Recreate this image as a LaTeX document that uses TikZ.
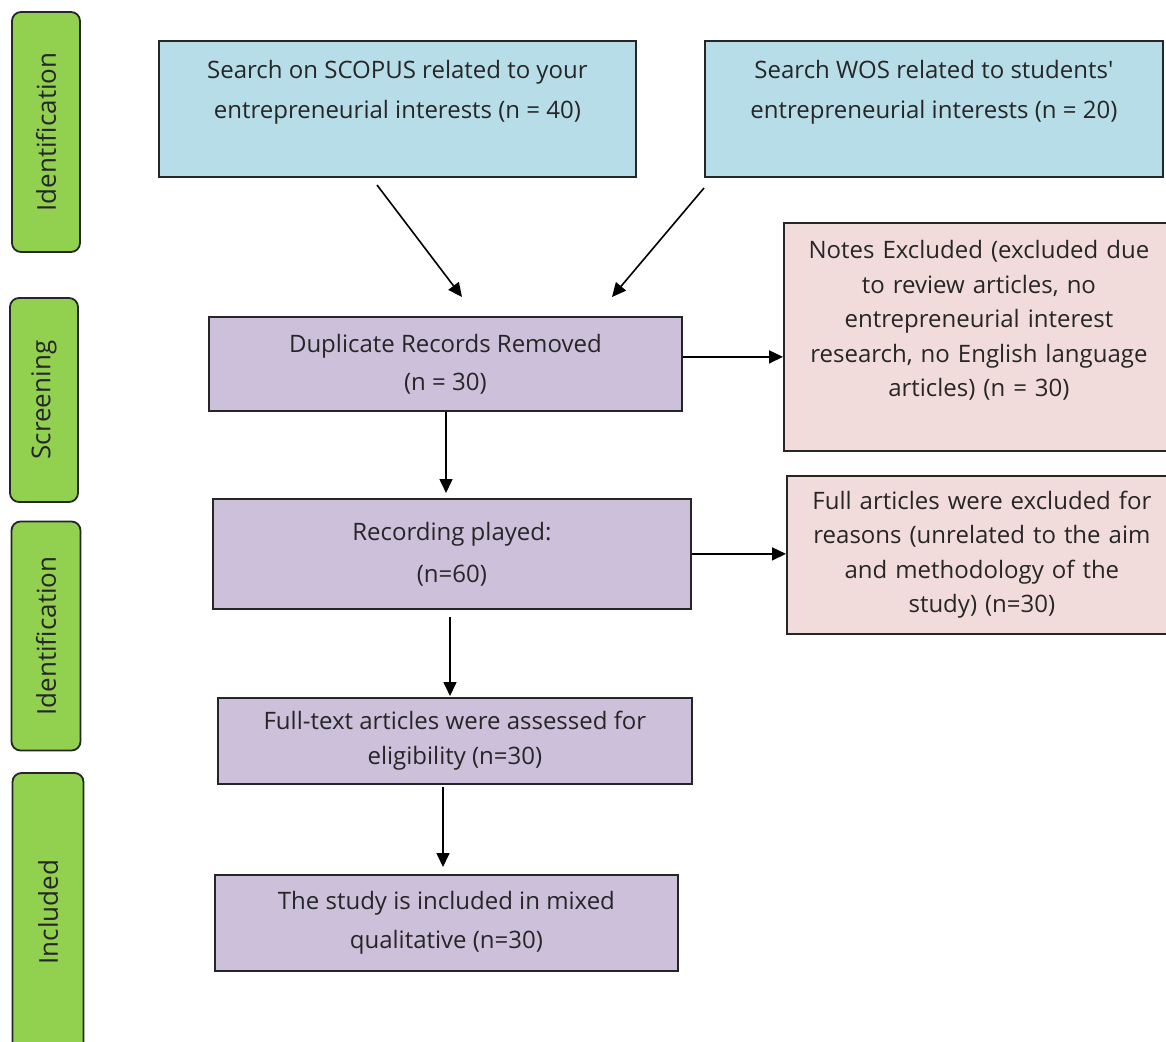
\documentclass[tikz,border=0pt]{standalone}
\usepackage{fontspec}
\setmainfont{Open Sans}
\usetikzlibrary{arrows.meta,calc}
\definecolor{bluefill}{HTML}{B7DDE8}
\definecolor{purplefill}{HTML}{CCC0DA}
\definecolor{pinkfill}{HTML}{F2DCDB}
\definecolor{greenfill}{HTML}{92D050}
\begin{document}
\begin{tikzpicture}[x=1pt,y=-1pt,
  box/.style={draw=black!85, line width=1.8pt, rectangle, anchor=north west, align=center, inner sep=4pt,
     font=\fontsize{24}{38}\selectfont, text=black!85},
  bluebox/.style={box, fill=bluefill, font=\fontsize{24}{40}\selectfont},
  purplebox/.style={box, fill=purplefill},
  pinkbox/.style={box, fill=pinkfill, font=\fontsize{24}{34.5}\selectfont},
  phase/.style={draw=black!85, line width=1.8pt, rounded corners=9pt, fill=greenfill, rotate=90,
     font=\fontsize{26}{30}\selectfont, text=black!85, inner sep=0pt},
  arr/.style={line width=1.6pt, -{Triangle[length=14pt,width=13pt]}}]
\useasboundingbox (0,0) rectangle (1166,1041);
\fill[white] (0,0) rectangle (1166,1041);
% phase labels
\node[phase, minimum width=240pt, minimum height=68pt] (ph1) at (46,132) {Identification};
\node[phase, minimum width=204pt, minimum height=68pt] (ph2) at (44,400) {Screening};
\node[phase, minimum width=229pt, minimum height=69pt] (ph3) at (46,636) {Identification};
\begin{scope}
\clip (0,0) rectangle (1166,1041);
\node[phase, minimum width=300pt, minimum height=71pt] (ph4) at (48,923) {};
\node[rotate=90, font=\fontsize{26}{30}\selectfont, text=black!85] (ph4t) at (48,912) {Included};
\end{scope}
% boxes
\node[bluebox, minimum width=477pt, minimum height=136pt] (scopus) at (158,40)
  {Search on SCOPUS related to your\\entrepreneurial interests (n = 40)\\[-12pt] \strut};
\node[bluebox, minimum width=458pt, minimum height=136pt] (wos) at (704,40)
  {Search WOS related to students\textquotesingle\\entrepreneurial interests (n = 20)\\[-12pt] \strut};
\node[purplebox, minimum width=473pt, minimum height=94pt] (dup) at (208,316)
  {Duplicate Records Removed\\(n = 30)};
\node[pinkbox, minimum width=390pt, minimum height=228pt, text width=370pt] (notes) at (783,222)
  {Notes Excluded (excluded due\\to review articles, no\\entrepreneurial interest\\research, no English language\\articles) (n = 30)\\[-8pt] \strut};
\node[purplebox, minimum width=478pt, minimum height=110pt, font=\fontsize{24}{42}\selectfont] (rec) at (212,498)
  {Recording played:\\(n=60)};
\node[pinkbox, minimum width=390pt, minimum height=158pt, text width=370pt] (full) at (786,475)
  {Full articles were excluded for\\reasons (unrelated to the aim\\and methodology of the\\study) (n=30)};
\node[purplebox, minimum width=474pt, minimum height=86pt, font=\fontsize{24}{35}\selectfont] (elig) at (217,697)
  {Full-text articles were assessed for\\eligibility (n=30)};
\node[purplebox, minimum width=463pt, minimum height=96pt, font=\fontsize{24}{39}\selectfont] (incl) at (214,874)
  {The study is included in mixed\\qualitative (n=30)};
% connectors
\coordinate (s1) at (377,185);
\coordinate (e1) at (462,297);
\coordinate (s2) at (704,188);
\coordinate (e2) at (612,297);
\draw[arr] (s1) -- (e1);
\draw[arr] (s2) -- (e2);
\draw[arr] ([yshift=7pt]dup.east) -- ([yshift=7pt]dup.east -| notes.west);
\draw[arr] (rec.east) -- (rec.east -| full.west);
\coordinate (v1s) at (446,412);
\coordinate (v1e) at (446,493);
\draw[arr] (v1s) -- (v1e);
\coordinate (v2s) at (450,617);
\coordinate (v2e) at (450,696);
\draw[arr] (v2s) -- (v2e);
\coordinate (v3s) at (443,787);
\coordinate (v3e) at (443,867);
\draw[arr] (v3s) -- (v3e);
\end{tikzpicture}
\end{document}
